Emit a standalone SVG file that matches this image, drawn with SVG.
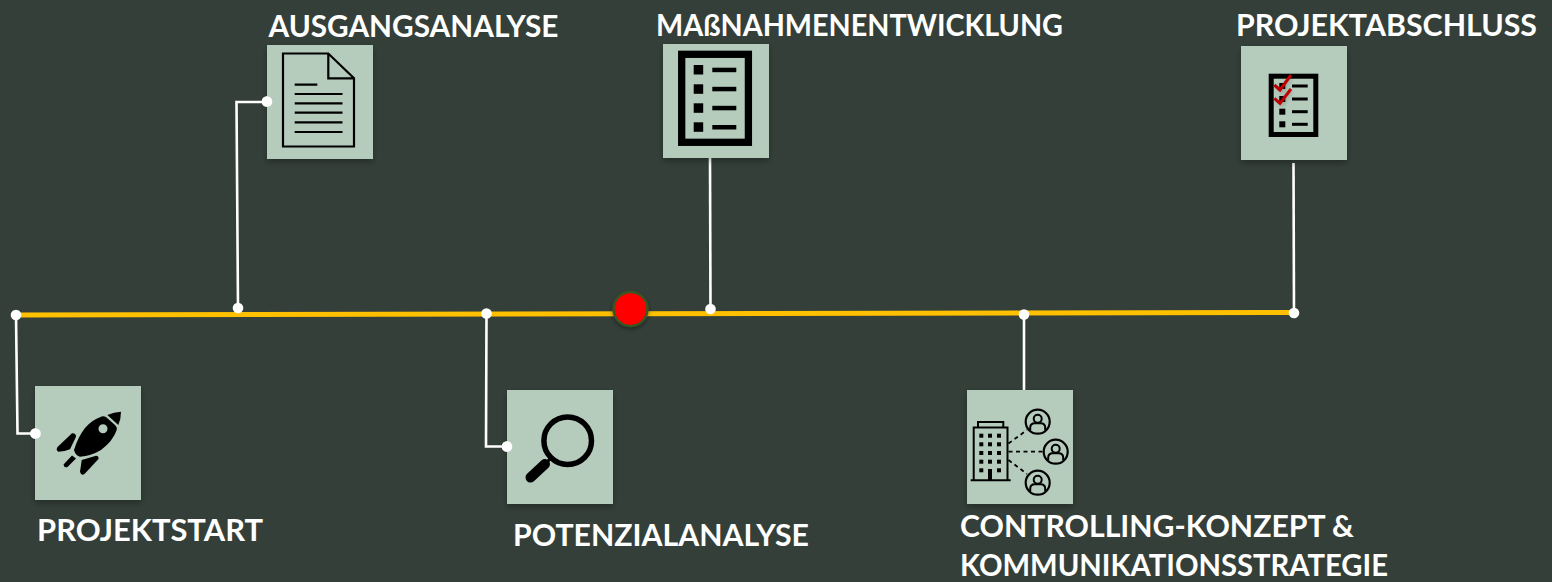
<svg xmlns="http://www.w3.org/2000/svg" width="1552" height="582" viewBox="0 0 1552 582">
<style>
.bg{fill:#343f39}
.box{fill:#b5ccbd;filter:url(#sh)}
.lbl{font-family:"Lato","Open Sans","Liberation Sans",sans-serif;font-weight:700;font-size:30.500px;fill:#fff}
.wire{fill:none;stroke:#fff;stroke-width:2.600}
.dot{fill:#fff}
.ol{fill:none;stroke:#000}
.k{fill:#000}
</style>
<defs>
<filter id="sh" x="-10%" y="-10%" width="120%" height="120%"><feDropShadow dx="0" dy="3" stdDeviation="3" flood-color="#000" flood-opacity=".3"/></filter>
<filter id="sh2" x="-30%" y="-30%" width="160%" height="160%"><feDropShadow dx="0" dy="2" stdDeviation="2" flood-color="#000" flood-opacity=".4"/></filter>
<filter id="bl" x="-30%" y="-30%" width="160%" height="160%"><feGaussianBlur stdDeviation="2"/></filter>
<g id="person"><circle r="12" fill="none" stroke="#000" stroke-width="2.200"/><circle cy="-3" r="4" fill="none" stroke="#000" stroke-width="2"/><path d="M-7.500 8.500V6Q-7.500 1.500-3 1.500H3Q7.500 1.500 7.500 6V8.500" fill="none" stroke="#000" stroke-width="2"/></g>
</defs>
<rect class="bg" width="1552" height="582"/>
<g id="connectors">
<path d="M16 315L1294 312.500" fill="none" stroke="#ffc000" stroke-width="5"/>
<path class="wire" d="M16 315L17.500 433.500H35.500"/>
<path class="wire" d="M238 308L236.500 102H267"/>
<path class="wire" d="M486.500 313.500L486 446.500H507"/>
<path class="wire" d="M710 158L710.500 309"/>
<path class="wire" d="M1293.500 163L1294 313"/>
<path class="wire" d="M1024 314.500V390"/>
<g class="dot">
<circle cx="16" cy="315" r="5.300"/><circle cx="35.500" cy="433.500" r="5.300"/>
<circle cx="238" cy="308" r="5.300"/><circle cx="267" cy="101.500" r="5.300"/>
<circle cx="486.500" cy="313.500" r="5.300"/><circle cx="507" cy="446.500" r="5.300"/>
<circle cx="710.500" cy="309" r="5.300"/><circle cx="1294" cy="313" r="5.300"/><circle cx="1024" cy="314.500" r="5.300"/>
</g>
</g>
<g id="marker"><circle cx="630.500" cy="309" r="17" fill="#f00" stroke="#375623" stroke-width="2.400" filter="url(#sh2)"/></g>
<g id="projektstart">
<rect class="box" x="35" y="386" width="106" height="114"/>
<circle class="dot" cx="35.500" cy="433.500" r="5.300"/>
<path class="k" d="M107.300 415Q114 412 121 411.700Q121 419 118.300 425Z"/>
<path class="k" fill-rule="evenodd" d="M100 417.300Q103 415.500 106 417L115.500 425.500Q117.500 428 116.700 430Q113 441 101 450Q91 456 80 456.700Q75 455 74 450Q78 437 85 428Q92 420 100 417.300ZM107.500 428.700A4.500 4.500 0 1 0 98.500 428.700A4.500 4.500 0 1 0 107.500 428.700Z"/>
<path class="k" d="M72 433.300Q76 433 76 436.700L70 449.300Q65 451.500 58.300 451.700Q55.500 450 57.500 447Z"/>
<path class="k" d="M96 455.700Q99 456 98.500 459L84.500 474Q81 476 80 471.700L81.700 460Z"/>
<path class="k" d="M72 455.500L76 458.500L67.500 467Q64 468 63.500 464.500Z"/>
<text class="lbl" x="37" y="541" textLength="226" lengthAdjust="spacingAndGlyphs">PROJEKTSTART</text>
</g>
<g id="ausgangsanalyse">
<rect class="box" x="267" y="45" width="106" height="114"/>
<circle class="dot" cx="267" cy="101.500" r="5.300"/>
<path class="ol" stroke-width="2.200" d="M283 53.500H328.300L354 78.300V146.500H283ZM328.300 53.500V78.300H354"/>
<path class="ol" stroke-width="2.200" d="M294.700 84.700H317.300M294.700 94H342.500M294.700 103.300H342.500M294.700 112.700H342.500M294.700 122.300H342.500M294.700 132H342.500"/>
<text class="lbl" x="268.500" y="37" textLength="290" lengthAdjust="spacingAndGlyphs">AUSGANGSANALYSE</text>
</g>
<g id="potenzialanalyse">
<rect class="box" x="507" y="390" width="106" height="114"/>
<circle class="dot" cx="507" cy="446.500" r="5.300"/>
<circle class="ol" stroke-width="5.500" cx="567.700" cy="440.700" r="23.800"/>
<path class="ol" stroke-width="3" d="M551 458L546 463"/>
<path class="ol" stroke-width="10" stroke-linecap="round" d="M545 464L530.500 477.500"/>
<text class="lbl" x="513" y="546" textLength="296" lengthAdjust="spacingAndGlyphs">POTENZIALANALYSE</text>
</g>
<g id="massnahmenentwicklung">
<rect class="box" x="663" y="44" width="106" height="114"/>
<rect class="ol" stroke-width="7.300" x="681.700" y="54.300" width="66.700" height="88"/>
<g class="k"><rect x="693.700" y="65" width="9.500" height="9.500"/><rect x="693.700" y="84.300" width="9.500" height="9.500"/><rect x="693.700" y="103.300" width="9.500" height="9.500"/><rect x="693.700" y="122.300" width="9.500" height="9.500"/>
<rect x="712.300" y="67.700" width="24" height="4.500"/><rect x="712.300" y="86.800" width="24" height="4.500"/><rect x="712.300" y="105.800" width="24" height="4.500"/><rect x="712.300" y="125" width="24" height="4.500"/></g>
<text class="lbl" x="656" y="36" textLength="407" lengthAdjust="spacingAndGlyphs">MAßNAHMENENTWICKLUNG</text>
</g>
<g id="controlling">
<rect class="box" x="967" y="390" width="106" height="114"/>
<path class="ol" stroke-width="2" d="M973.700 480V427.500H1007.500V480M970.700 480.300H1010.700M978 427.500V422H1003.300V427.500"/>
<g class="k">
<rect x="979.300" y="433.700" width="4" height="4"/><rect x="988" y="433.700" width="4" height="4"/><rect x="997" y="433.700" width="4" height="4"/>
<rect x="979.300" y="442.300" width="4" height="4"/><rect x="988" y="442.300" width="4" height="4"/><rect x="997" y="442.300" width="4" height="4"/>
<rect x="979.300" y="451" width="4" height="4"/><rect x="988" y="451" width="4" height="4"/><rect x="997" y="451" width="4" height="4"/>
<rect x="979.300" y="459.700" width="4" height="4"/><rect x="988" y="459.700" width="4" height="4"/><rect x="997" y="459.700" width="4" height="4"/>
<rect x="979.300" y="468.300" width="4" height="4"/><rect x="997" y="468.300" width="4" height="4"/><rect x="988" y="469" width="4" height="11"/>
</g>
<path class="ol" stroke-width="1.800" stroke-dasharray="4 3.500" d="M1008.500 443.500L1027 430M1008.500 451.700H1043M1008.500 460L1027 474"/>
<use href="#person" x="1037.700" y="421.700"/><use href="#person" x="1055.700" y="451.700"/><use href="#person" x="1037.700" y="482.700"/>
<text class="lbl" x="960" y="537" textLength="394" lengthAdjust="spacingAndGlyphs">CONTROLLING-KONZEPT &amp;</text>
<text class="lbl" x="960" y="576" textLength="428" lengthAdjust="spacingAndGlyphs">KOMMUNIKATIONSSTRATEGIE</text>
</g>
<g id="projektabschluss">
<rect class="box" x="1241" y="46" width="106" height="114"/>
<rect class="ol" stroke-width="5" x="1271.200" y="76.200" width="44.600" height="58.300"/>
<g class="k"><rect x="1279.300" y="83" width="6" height="6"/><rect x="1279.300" y="96" width="6" height="6"/><rect x="1279.300" y="108.700" width="6" height="6"/><rect x="1279.300" y="121.300" width="6" height="6"/>
<rect x="1292" y="84.500" width="15.700" height="3"/><rect x="1292" y="97.500" width="15.700" height="3"/><rect x="1292" y="110.200" width="15.700" height="3"/><rect x="1292" y="122.800" width="15.700" height="3"/></g>
<path d="M1277 86L1282 91L1290 78M1277 99L1282 104L1290 91" fill="none" stroke="#000" stroke-width="4" opacity=".2" filter="url(#bl)"/>
<path d="M1274.300 85L1280 90L1291 75M1274.300 98.300L1280 103.300L1291 89" fill="none" stroke="#c00000" stroke-width="3"/>
<text class="lbl" x="1236" y="36" textLength="301" lengthAdjust="spacingAndGlyphs">PROJEKTABSCHLUSS</text>
</g>
</svg>
